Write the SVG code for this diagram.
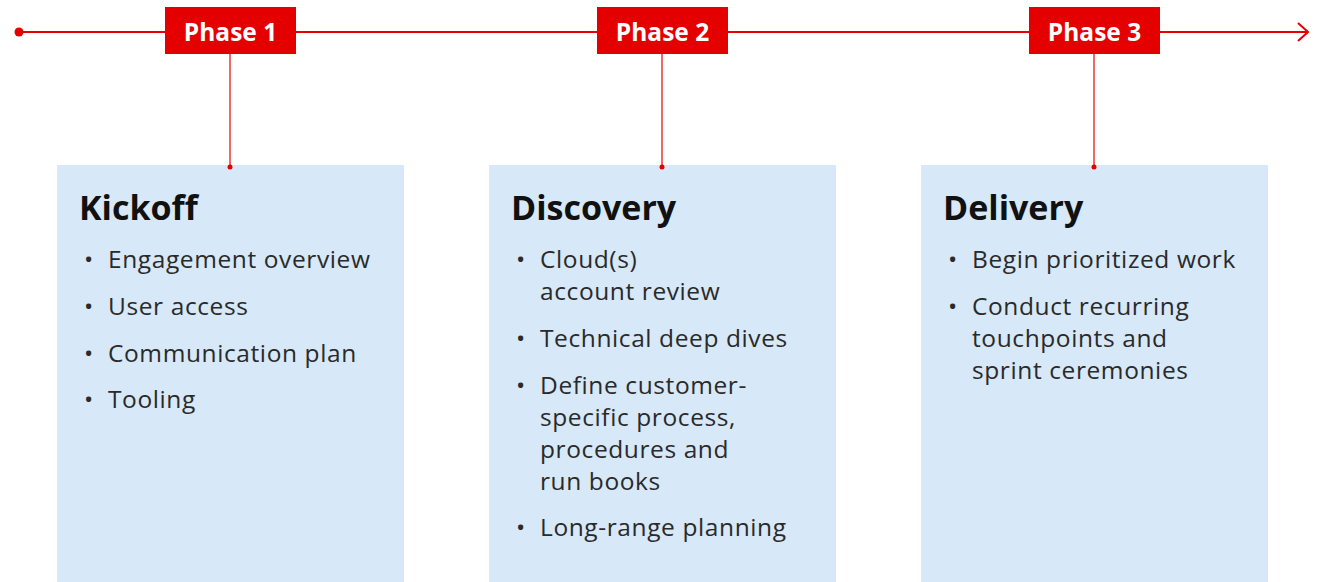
<svg xmlns="http://www.w3.org/2000/svg" width="1319" height="582" viewBox="0 0 1319 582">
<style>
.ph{fill:#e50000}
.phl{font-family:"Open Sans","Noto Sans",sans-serif;font-weight:700;font-size:24.5px;fill:#fff;text-anchor:middle}
.card{fill:#d7e8f8}
.ttl{font-family:"Open Sans","Noto Sans",sans-serif;font-weight:700;font-size:34px;fill:#111}
.it{font-family:"Open Sans","Noto Sans",sans-serif;font-size:24.5px;letter-spacing:0.6px;fill:#2a2a2a}
.conn{stroke:#ee3333;stroke-width:1.5;fill:none}
</style>
<defs>
<marker id="arr" viewBox="0 0 12 20" refX="11" refY="10" markerWidth="12" markerHeight="20" markerUnits="userSpaceOnUse" orient="auto">
<path d="M1,1 L11,10 L1,19" fill="none" stroke="#e50000" stroke-width="2"/>
</marker>
</defs>
<g id="timeline">
<line x1="19" y1="32" x2="1308" y2="32" stroke="#e50000" stroke-width="2" marker-end="url(#arr)"/>
<circle cx="19" cy="32" r="4.5" fill="#e50000"/>
</g>
<g id="connectors">
<line class="conn" x1="230" y1="54" x2="230" y2="167"/>
<line class="conn" x1="662" y1="54" x2="662" y2="167"/>
<line class="conn" x1="1094" y1="54" x2="1094" y2="167"/>
</g>
<g id="phase1">
<rect class="ph" x="165" y="7" width="131" height="47"/>
<text class="phl" x="230.5" y="41">Phase 1</text>
</g>
<g id="phase2">
<rect class="ph" x="597" y="7" width="131" height="47"/>
<text class="phl" x="662.5" y="41">Phase 2</text>
</g>
<g id="phase3">
<rect class="ph" x="1029" y="7" width="131" height="47"/>
<text class="phl" x="1094.5" y="41">Phase 3</text>
</g>
<g id="kickoff">
<rect class="card" x="57" y="165" width="347" height="420"/>
<circle cx="230" cy="167" r="2.5" fill="#e50000"/>
<text class="ttl" x="79" y="220">Kickoff</text>
<g class="it">
<text x="84" y="268">•</text><text x="108" y="268">Engagement overview</text>
<text x="84" y="315">•</text><text x="108" y="315">User access</text>
<text x="84" y="362">•</text><text x="108" y="362">Communication plan</text>
<text x="84" y="408">•</text><text x="108" y="408">Tooling</text>
</g>
</g>
<g id="discovery">
<rect class="card" x="489" y="165" width="347" height="420"/>
<circle cx="662" cy="167" r="2.5" fill="#e50000"/>
<text class="ttl" x="511" y="220">Discovery</text>
<g class="it">
<text x="516" y="268">•</text><text x="540" y="268">Cloud(s)</text>
<text x="540" y="300">account review</text>
<text x="516" y="347">•</text><text x="540" y="347">Technical deep dives</text>
<text x="516" y="394">•</text><text x="540" y="394">Define customer-</text>
<text x="540" y="426">specific process,</text>
<text x="540" y="458">procedures and</text>
<text x="540" y="490">run books</text>
<text x="516" y="536">•</text><text x="540" y="536">Long-range planning</text>
</g>
</g>
<g id="delivery">
<rect class="card" x="921" y="165" width="347" height="420"/>
<circle cx="1094" cy="167" r="2.5" fill="#e50000"/>
<text class="ttl" x="943" y="220">Delivery</text>
<g class="it">
<text x="948" y="268">•</text><text x="972" y="268">Begin prioritized work</text>
<text x="948" y="315">•</text><text x="972" y="315">Conduct recurring</text>
<text x="972" y="347">touchpoints and</text>
<text x="972" y="379">sprint ceremonies</text>
</g>
</g>
</svg>
